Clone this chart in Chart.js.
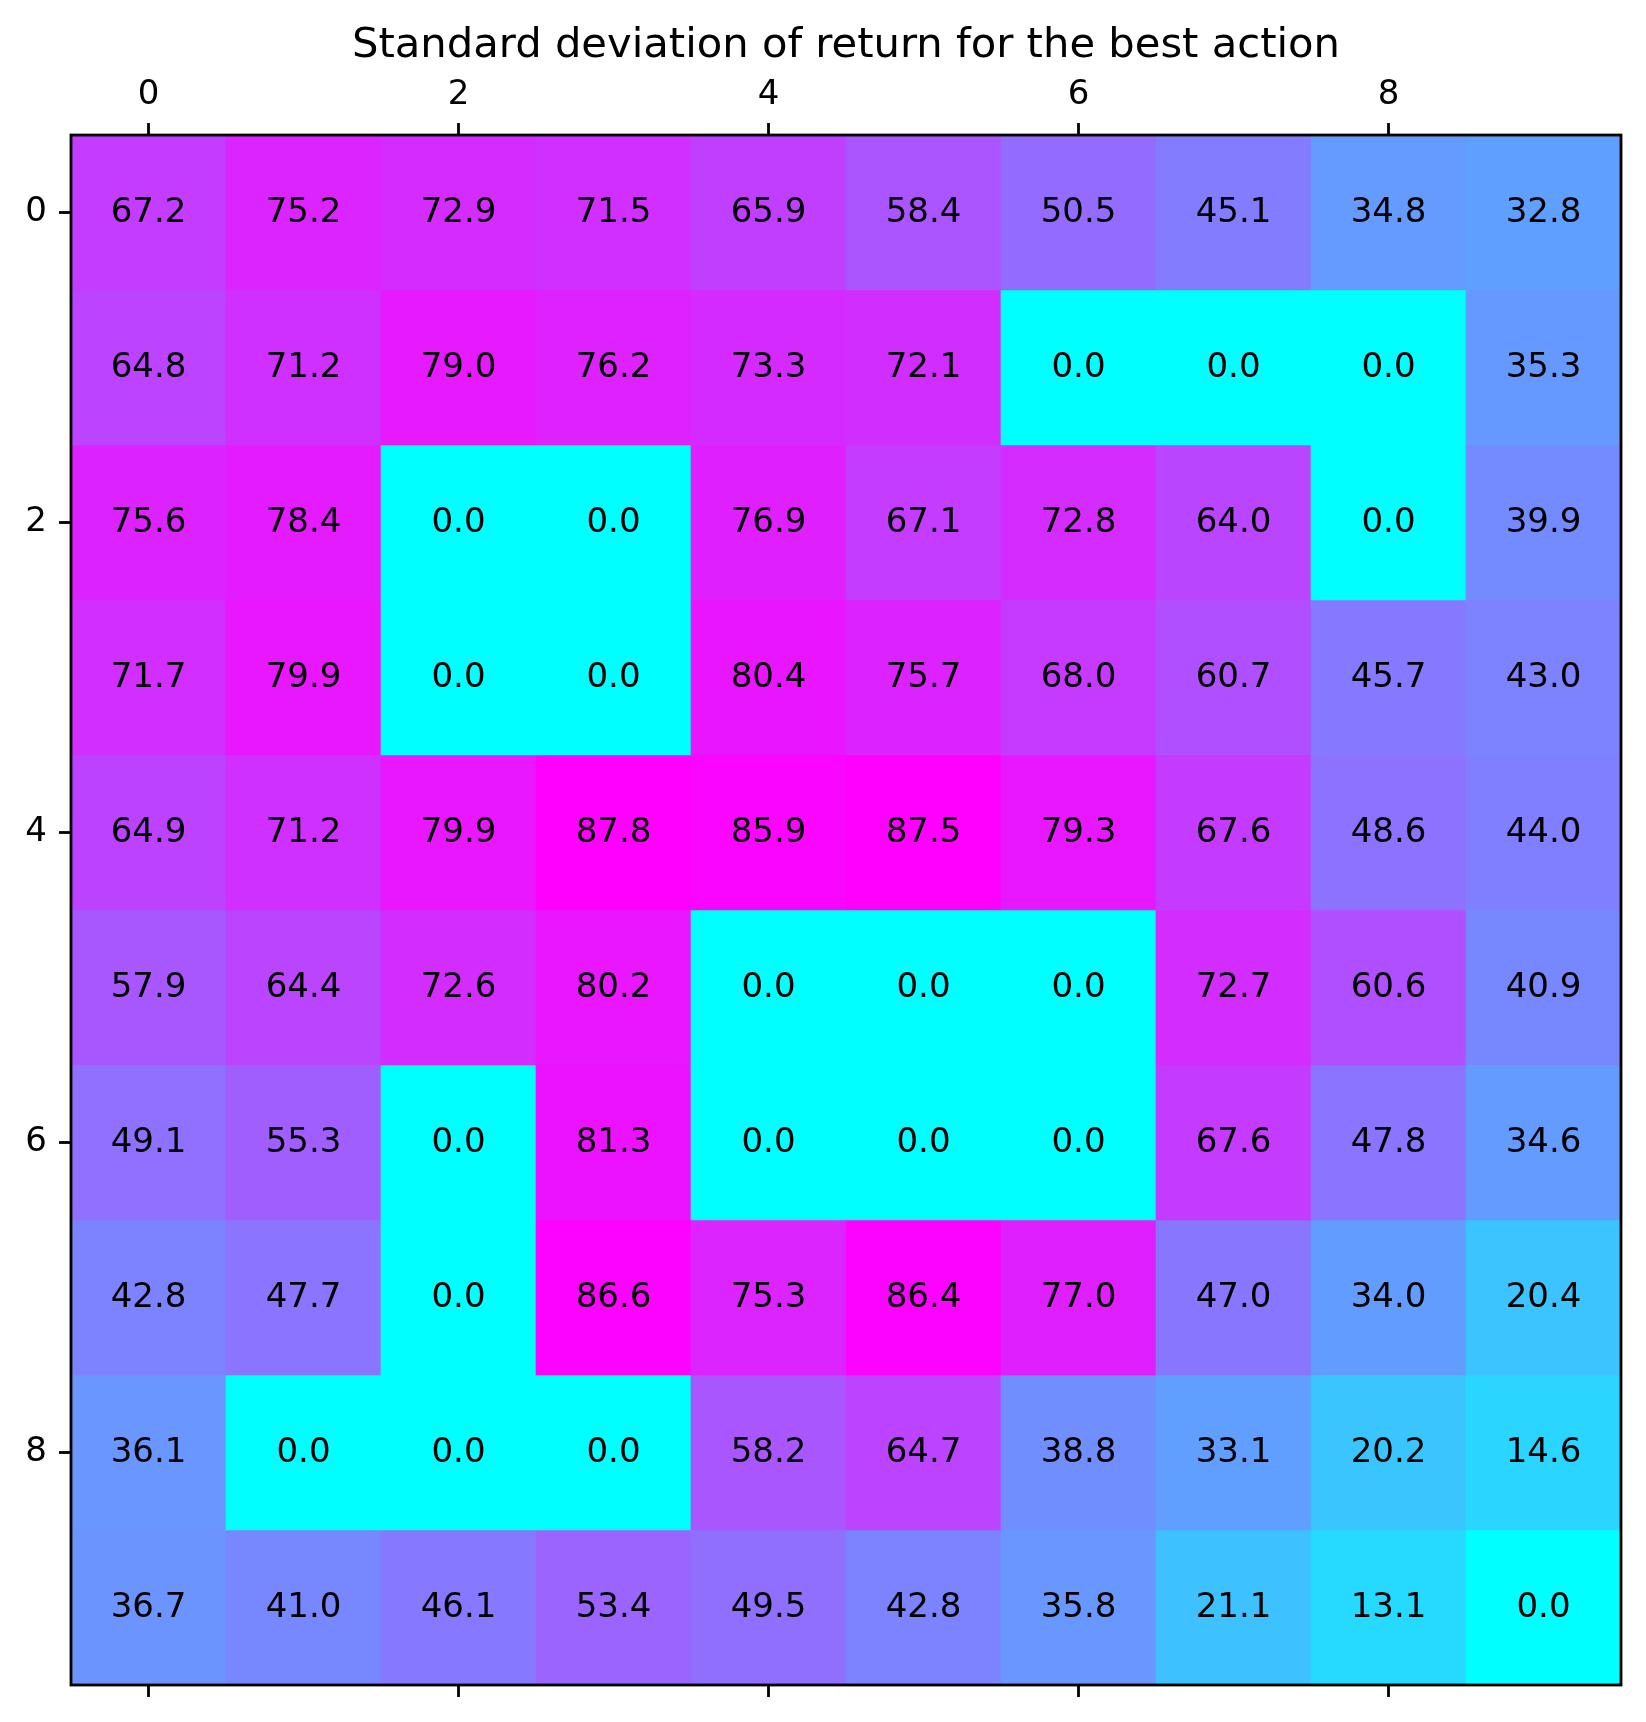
<!DOCTYPE html>
<html>
<head>
<meta charset="utf-8">
<title>Standard deviation of return for the best action</title>
<script src="https://cdn.jsdelivr.net/npm/chart.js@4.4.0/dist/chart.umd.min.js"></script>
<style>
  body { margin: 0; background: #fff; }
  canvas { display: block; }
</style>
</head>
<body>
<canvas id="heat" width="1646" height="1722"></canvas>
<script>
const chartTitle = 'Standard deviation of return for the best action'
const cols = [0, 1, 2, 3, 4, 5, 6, 7, 8, 9]
const rows = [0, 1, 2, 3, 4, 5, 6, 7, 8, 9]
const xTickVals = [0, 2, 4, 6, 8]
const yTickVals = [0, 2, 4, 6, 8]

// std of return, one array per grid row
const stdValues = [
  [67.2, 75.2, 72.9, 71.5, 65.9, 58.4, 50.5, 45.1, 34.8, 32.8],
  [64.8, 71.2, 79.0, 76.2, 73.3, 72.1, 0.0, 0.0, 0.0, 35.3],
  [75.6, 78.4, 0.0, 0.0, 76.9, 67.1, 72.8, 64.0, 0.0, 39.9],
  [71.7, 79.9, 0.0, 0.0, 80.4, 75.7, 68.0, 60.7, 45.7, 43.0],
  [64.9, 71.2, 79.9, 87.8, 85.9, 87.5, 79.3, 67.6, 48.6, 44.0],
  [57.9, 64.4, 72.6, 80.2, 0.0, 0.0, 0.0, 72.7, 60.6, 40.9],
  [49.1, 55.3, 0.0, 81.3, 0.0, 0.0, 0.0, 67.6, 47.8, 34.6],
  [42.8, 47.7, 0.0, 86.6, 75.3, 86.4, 77.0, 47.0, 34.0, 20.4],
  [36.1, 0.0, 0.0, 0.0, 58.2, 64.7, 38.8, 33.1, 20.2, 14.6],
  [36.7, 41.0, 46.1, 53.4, 49.5, 42.8, 35.8, 21.1, 13.1, 0.0]
]

const vMin = Math.min(...stdValues.flat())
const vMax = Math.max(...stdValues.flat())

// matplotlib "cool" colormap: cyan -> magenta
function cool(v) {
  let t = (v - vMin) / (vMax - vMin)
  let i = Math.min(255, Math.floor(t * 256))
  let f = i / 255
  return `rgb(${Math.round(255 * f)}, ${Math.round(255 * (1 - f))}, 255)`
}

const datasets = rows.map(r => ({
  label: 'row ' + r,
  data: cols.map(c => ({ x: c, y: [r - 0.5, r + 0.5] })),
  backgroundColor: cols.map(c => cool(stdValues[r][c])),
  borderWidth: 0,
  grouped: false,
  barPercentage: 1,
  categoryPercentage: 1
}))

// cell numbers + frame on top of the bars
const cellText = {
  id: 'cellText',
  afterDatasetsDraw(chart) {
    const { ctx, chartArea, scales: { x, y } } = chart
    ctx.save()
    ctx.font = '34px "DejaVu Sans"'
    ctx.fillStyle = '#000'
    ctx.textAlign = 'center'
    ctx.textBaseline = 'middle'
    rows.forEach(r => {
      cols.forEach(c => {
        ctx.fillText(stdValues[r][c].toFixed(1), x.getPixelForValue(c), y.getPixelForValue(r) + 0.5)
      })
    })
    ctx.lineWidth = 2.8
    ctx.strokeStyle = '#000'
    ctx.strokeRect(chartArea.left, chartArea.top, chartArea.right - chartArea.left, chartArea.bottom - chartArea.top)
    ctx.restore()
  }
}

Chart.defaults.font.family = '"DejaVu Sans"'
Chart.defaults.color = '#000'

const tickGrid = { drawOnChartArea: false, drawTicks: true, tickLength: 12, tickWidth: 2.8, tickColor: '#000', offset: false }

new Chart(document.getElementById('heat'), {
  type: 'bar',
  data: { datasets: datasets },
  options: {
    responsive: false,
    animation: false,
    devicePixelRatio: 1,
    layout: { padding: { left: 0, right: 25, top: 0, bottom: 0 } },
    plugins: {
      legend: { display: false },
      tooltip: { enabled: false },
      title: {
        display: true,
        text: chartTitle,
        fullSize: false,
        color: '#000',
        font: { size: 41.7, weight: 'normal' },
        padding: { top: 21, bottom: 0 }
      }
    },
    scales: {
      x: {
        type: 'linear',
        position: 'top',
        min: -0.5,
        max: 9.5,
        offset: false,
        grid: tickGrid,
        border: { display: false },
        ticks: { font: { size: 34 }, padding: 7, maxRotation: 0 },
        afterBuildTicks: s => { s.ticks = xTickVals.map(v => ({ value: v })) },
        afterFit: s => { s.height = 64 }
      },
      xb: {
        type: 'linear',
        axis: 'x',
        position: 'bottom',
        min: -0.5,
        max: 9.5,
        offset: false,
        grid: tickGrid,
        border: { display: false },
        ticks: { display: false },
        afterBuildTicks: s => { s.ticks = xTickVals.map(v => ({ value: v })) },
        afterFit: s => { s.height = 37 }
      },
      y: {
        type: 'linear',
        reverse: true,
        min: -0.5,
        max: 9.5,
        beginAtZero: false,
        grid: tickGrid,
        border: { display: false },
        ticks: { font: { size: 34 }, padding: 12 },
        afterBuildTicks: s => { s.ticks = yTickVals.map(v => ({ value: v })) },
        afterFit: s => { s.width = 71 }
      }
    }
  },
  plugins: [cellText]
})
</script>
</body>
</html>
